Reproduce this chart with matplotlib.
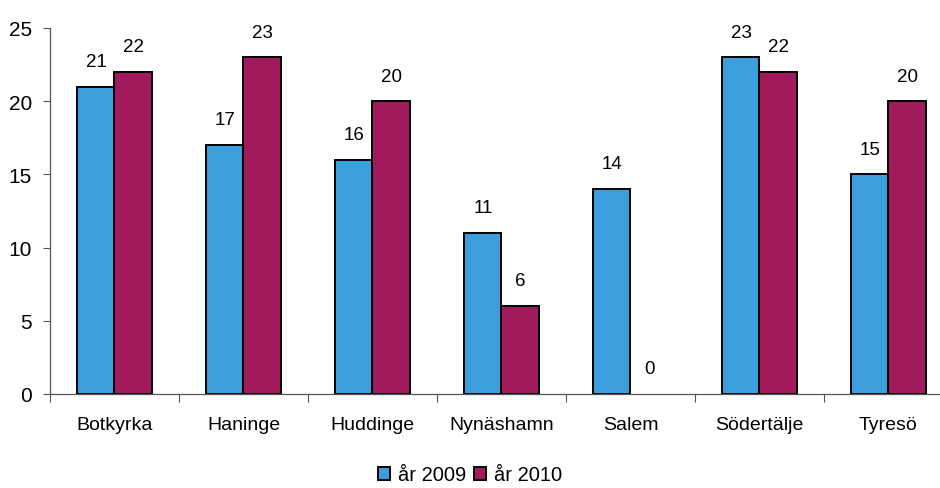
import matplotlib.pyplot as plt
import numpy as np

plt.rcParams['font.family'] = ['Liberation Sans', 'DejaVu Sans']

# Data
kommuner = ["Botkyrka", "Haninge", "Huddinge", "Nynäshamn", "Salem", "Södertälje", "Tyresö"]
ar_2009 = [21, 17, 16, 11, 14, 23, 15]
ar_2010 = [22, 23, 20, 6, 0, 22, 20]
series_labels = ["år 2009", "år 2010"]

BLUE = "#3a9fdc"
RED = "#a01a5c"

fig = plt.figure(figsize=(9.4, 4.89), dpi=100)
ax = fig.add_axes([50 / 940, 94 / 489, 903 / 940, 366 / 489])

x = np.arange(len(kommuner))
w = 0.287
b1 = ax.bar(x - w / 2, ar_2009, w, color=BLUE, edgecolor="black", linewidth=1.4, label=series_labels[0])
b2 = ax.bar(x + w / 2, ar_2010, w, color=RED, edgecolor="black", linewidth=1.4, label=series_labels[1])

# value labels on top of each bar; zero-height bars show no outline
for bars, vals in [(b1, ar_2009), (b2, ar_2010)]:
  for rect, v in zip(bars, vals):
    if v == 0:
      rect.set_linewidth(0)
    ax.annotate(str(v), (rect.get_x() + rect.get_width() / 2, v),
                xytext=(0, 12), textcoords="offset points",
                ha="center", va="bottom", fontsize=13.5)

ax.set_xlim(-0.5, len(kommuner) - 0.5)
ax.set_ylim(0, 25)
ax.set_yticks([0, 5, 10, 15, 20, 25])
ax.tick_params(axis="y", labelsize=15, length=5, width=0.8, pad=8, color="#555555")

# category labels centred, tick marks on group boundaries
ax.set_xticks(x)
ax.set_xticklabels(kommuner, fontsize=14)
ax.tick_params(axis="x", which="major", length=0, pad=16)
ax.set_xticks(np.arange(len(kommuner) + 1) - 0.5, minor=True)
ax.tick_params(axis="x", which="minor", length=6, width=0.8, color="#555555")

for s in ["top", "right"]:
  ax.spines[s].set_visible(False)
for s in ["left", "bottom"]:
  ax.spines[s].set_color("#555555")
  ax.spines[s].set_linewidth(0.9)

fig.legend(handles=[b1, b2], loc="center", bbox_to_anchor=(470 / 940, 1 - 476 / 489),
           ncol=2, frameon=False, fontsize=14.5, handlelength=0.6, handleheight=0.6,
           handletextpad=0.4, columnspacing=0.4)

fig.savefig("out.png", dpi=100)
